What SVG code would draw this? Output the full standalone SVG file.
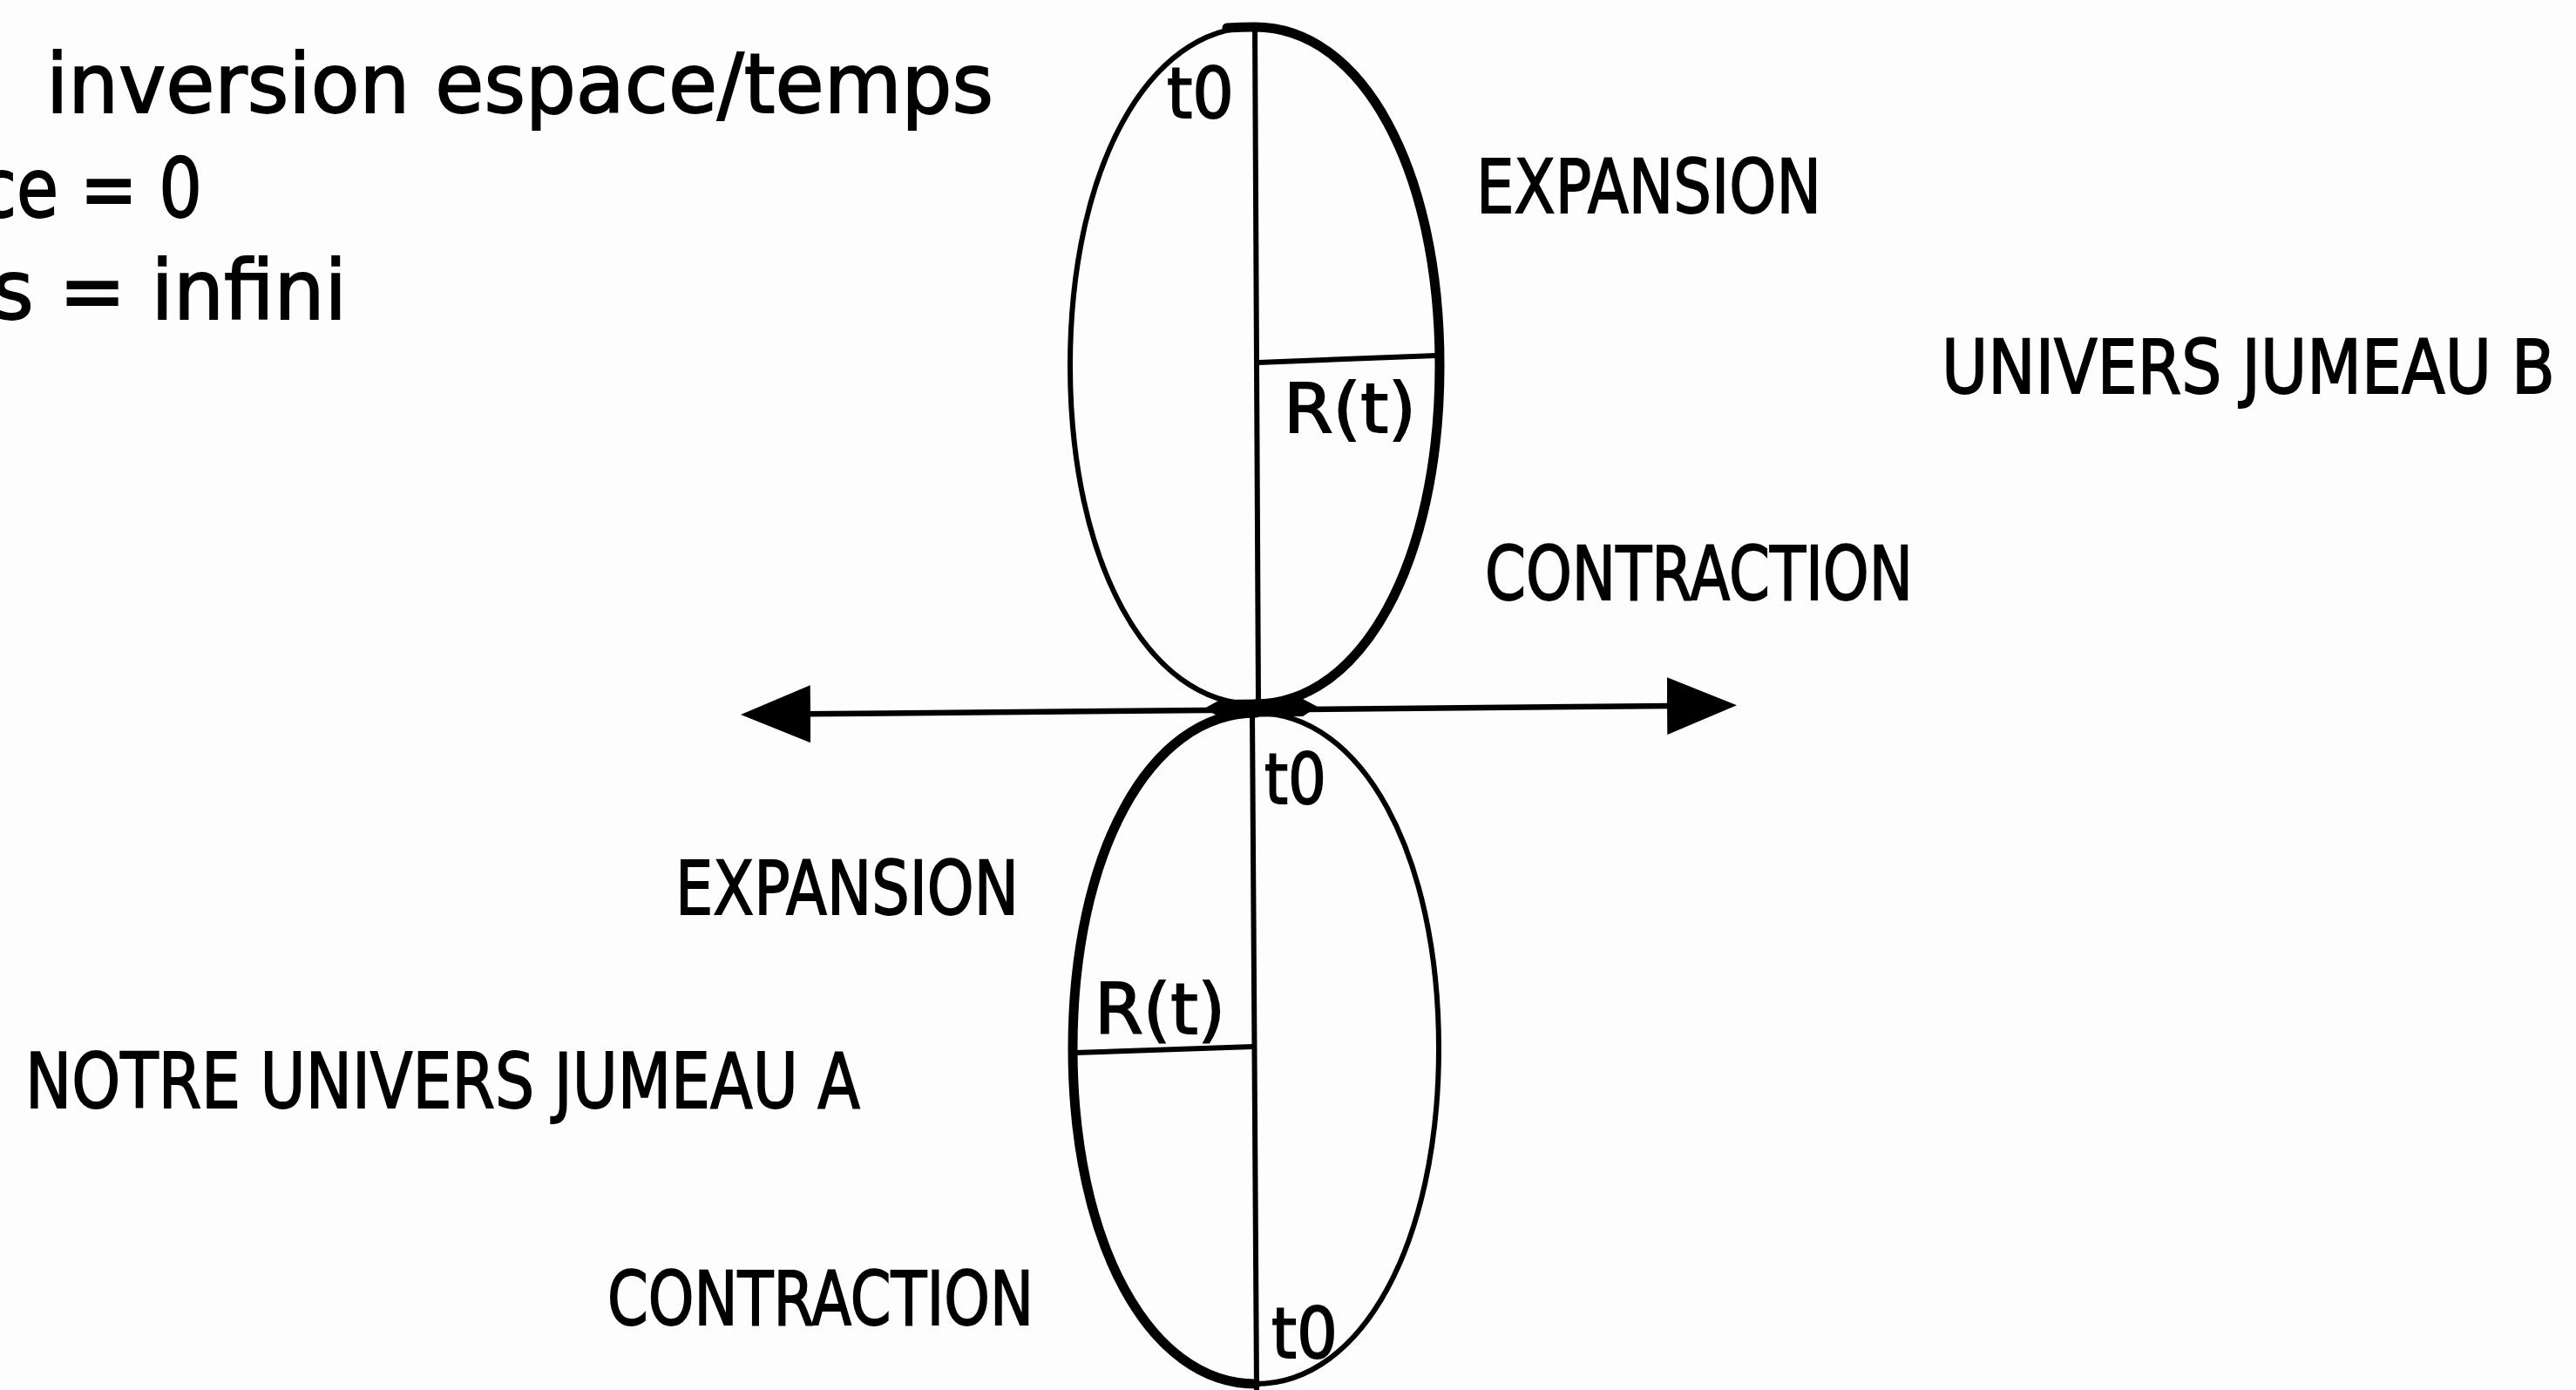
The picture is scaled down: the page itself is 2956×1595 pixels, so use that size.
<svg xmlns="http://www.w3.org/2000/svg" width="2956" height="1595" viewBox="0 0 2956 1595">
  <style>
    text { font-family: "DejaVu Sans", "Liberation Sans", sans-serif; fill: #000; stroke: #000; stroke-width: 1.8; }
    .lc { font-size: 94px; }
    .cap { font-size: 85px; }
    .small { font-size: 81px; }
    .thin { fill: none; stroke: #000; stroke-width: 6; }
    .thick { fill: none; stroke: #000; stroke-width: 11; stroke-linecap: round; }
    .axis { fill: none; stroke: #000; stroke-width: 6.5; }
  </style>
  <defs>
    <marker id="arrow" viewBox="0 0 80 66" markerWidth="80" markerHeight="66" refX="5" refY="33" orient="auto-start-reverse" markerUnits="userSpaceOnUse">
      <path d="M0,0 L80,33 L0,66 Z" fill="#000"/>
    </marker>
  </defs>
  <rect width="2956" height="1595" fill="#fdfdfd"/>

  <g id="notes">
    <text class="lc" x="53" y="129" textLength="1087" lengthAdjust="spacingAndGlyphs">inversion espace/temps</text>
    <text class="lc" x="-24" y="249" textLength="256" lengthAdjust="spacingAndGlyphs">ce = 0</text>
    <text class="lc" x="-9" y="366" textLength="407" lengthAdjust="spacingAndGlyphs">s = infini</text>
  </g>

  <g id="univers-b">
    <path class="thin" d="M1440,31 C1563,31 1652,194.2 1652,419.5 C1652,644.8 1563,808 1440,808 C1317,808 1228,644.8 1228,419.5 C1228,194.2 1317,31 1440,31 Z"/>
    <path class="thick" d="M1408,32 C1425,31 1432,31 1440,31 C1563,31 1652,194.2 1652,419.5 C1652,644.8 1563,808 1440,808"/>
    <line class="thin" x1="1440" y1="31" x2="1444" y2="806"/>
    <line class="thin" x1="1444" y1="416" x2="1648" y2="408"/>
    <text class="small" x="1339" y="135" textLength="77" lengthAdjust="spacingAndGlyphs">t0</text>
    <text style="font-size:78px" x="1473" y="496" textLength="152" lengthAdjust="spacingAndGlyphs">R(t)</text>
    <text class="cap" x="1694" y="244" textLength="396" lengthAdjust="spacingAndGlyphs">EXPANSION</text>
    <text class="cap" x="1704" y="688" textLength="491" lengthAdjust="spacingAndGlyphs">CONTRACTION</text>
    <text class="cap" x="2228" y="451" textLength="704" lengthAdjust="spacingAndGlyphs">UNIVERS JUMEAU B</text>
  </g>

  <g id="univers-a">
    <path class="thin" d="M1441,818 C1563,818 1651,979.7 1651,1203 C1651,1426.3 1563,1588 1441,1588 C1319,1588 1231,1426.3 1231,1203 C1231,979.7 1319,818 1441,818 Z"/>
    <path class="thick" d="M1441,1588 C1319,1588 1231,1426.3 1231,1203 C1231,979.7 1319,818 1441,818"/>
    <line class="thin" x1="1437" y1="818" x2="1442" y2="1595"/>
    <line class="thin" x1="1233" y1="1208" x2="1438" y2="1201"/>
    <text class="small" x="1451" y="922" textLength="71" lengthAdjust="spacingAndGlyphs">t0</text>
    <text style="font-size:80px" x="1256" y="1186" textLength="150" lengthAdjust="spacingAndGlyphs">R(t)</text>
    <text class="small" x="1459" y="1558" textLength="76" lengthAdjust="spacingAndGlyphs">t0</text>
    <text class="cap" x="775" y="1049" textLength="394" lengthAdjust="spacingAndGlyphs">EXPANSION</text>
    <text class="cap" x="697" y="1520" textLength="489" lengthAdjust="spacingAndGlyphs">CONTRACTION</text>
    <text style="font-size:88px" x="29" y="1271" textLength="958" lengthAdjust="spacingAndGlyphs">NOTRE UNIVERS JUMEAU A</text>
  </g>

  <g id="connectors">
    <line class="axis" x1="925" y1="819.3" x2="1918" y2="810" marker-start="url(#arrow)" marker-end="url(#arrow)"/>
    <path d="M1382,813 L1400,803 L1495,802 L1512,811 L1495,822 L1400,823 Z" fill="#000"/>
  </g>
</svg>
